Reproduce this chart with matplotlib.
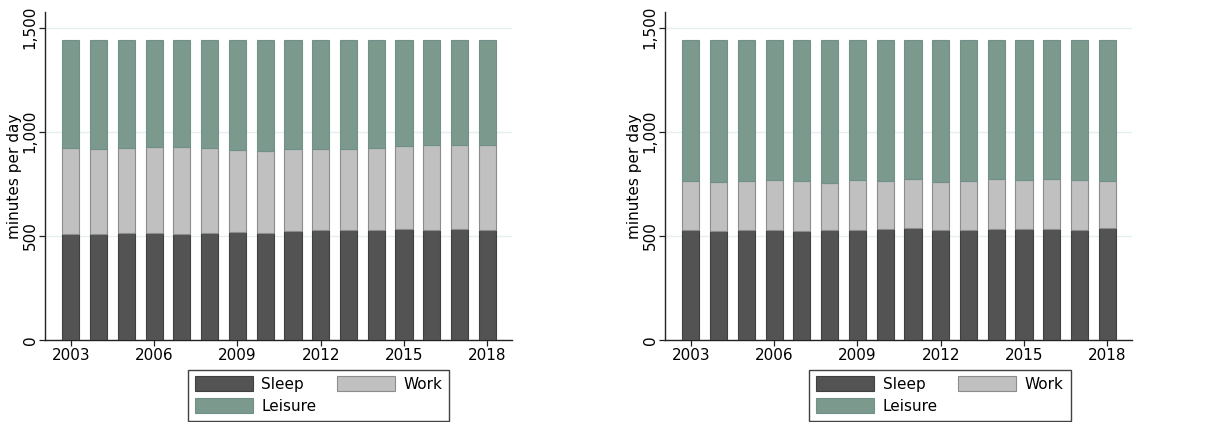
import matplotlib
matplotlib.use("Agg")
import matplotlib.pyplot as plt
import numpy as np

years = [2003, 2004, 2005, 2006, 2007, 2008, 2009, 2010,
         2011, 2012, 2013, 2014, 2015, 2016, 2017, 2018]
xticks = [2003, 2006, 2009, 2012, 2015, 2018]
yticks = [0, 500, 1000, 1500]
ytick_labels = ["0", "500", "1,000", "1,500"]

# Left panel (minutes per day)
left_sleep = [510, 510, 516, 516, 511, 512, 519, 516, 521, 526, 526, 527, 532, 527, 531, 527]
left_work = [410, 408, 407, 412, 415, 412, 394, 393, 394, 392, 389, 396, 401, 409, 405, 407]
left_leisure = [520, 522, 517, 512, 514, 516, 527, 531, 525, 522, 525, 517, 507, 504, 504, 506]

# Right panel (minutes per day)
right_sleep = [527, 522, 529, 529, 524, 527, 527, 532, 536, 527, 527, 532, 532, 532, 527, 536]
right_work = [238, 236, 233, 238, 238, 225, 240, 233, 237, 233, 235, 240, 238, 243, 243, 229]
right_leisure = [675, 682, 678, 673, 678, 688, 673, 675, 667, 680, 678, 668, 670, 665, 670, 675]

labels = ["Sleep", "Work", "Leisure"]
colors = ["#535353", "#c0c0c0", "#7b998d"]
edges = ["#404040", "#8c8c8c", "#72908a"]

plt.rcParams["font.family"] = ["DejaVu Sans"]
W, H = 1211, 422
fig = plt.figure(figsize=(W / 100, H / 100), dpi=100)

panels = [
    (left_sleep, left_work, left_leisure, 45.3, 318.5),
    (right_sleep, right_work, right_leisure, 665.3, 940.0),
]

for sleep, work, leisure, x0, legx in panels:
    ax = fig.add_axes([x0 / W, 1 - 340 / H, 466.4 / W, (340 - 12) / H])
    x = np.array(years)
    bottom = np.zeros(len(years))
    handles = []
    for vals, lab, c, e in zip([sleep, work, leisure], labels, colors, edges):
        b = ax.bar(x, vals, width=0.62, bottom=bottom, color=c, edgecolor=e,
                   linewidth=0.8, label=lab, zorder=3)
        handles.append(b)
        bottom = bottom + np.array(vals)
    ax.set_xlim(2002.08, 2018.88)
    ax.set_ylim(0, 1575)
    ax.set_xticks(xticks)
    ax.set_xticklabels([str(t) for t in xticks], fontsize=11)
    ax.set_yticks(yticks)
    ax.set_yticklabels(ytick_labels, fontsize=11, rotation=90, va="center")
    ax.tick_params(axis="both", length=4, width=0.9, color="#222222", pad=1.5)
    ax.grid(axis="y", color="#e6efef", linewidth=1.0, zorder=0)
    for s in ["top", "right"]:
        ax.spines[s].set_visible(False)
    for s in ["left", "bottom"]:
        ax.spines[s].set_color("#222222")
        ax.spines[s].set_linewidth(1.0)
    ax.set_ylabel("minutes per day", fontsize=11, labelpad=0.5)

    # column-wise fill: col 1 = Sleep, Leisure ; col 2 = Work
    order = [0, 2, 1]
    leg = fig.legend(handles=[handles[i] for i in order],
                     labels=[labels[i] for i in order], ncol=2, loc="upper center",
                     bbox_to_anchor=(legx / W, 1 - 369.5 / H),
                     fontsize=11, frameon=True, fancybox=False, shadow=False,
                     handlelength=3.8, handleheight=1.1, handletextpad=0.55,
                     columnspacing=1.34, labelspacing=0.42, borderpad=0.45,
                     borderaxespad=0)
    leg.get_frame().set_edgecolor("#111111")
    leg.get_frame().set_linewidth(1.0)

fig.savefig("out.png", dpi=100)
